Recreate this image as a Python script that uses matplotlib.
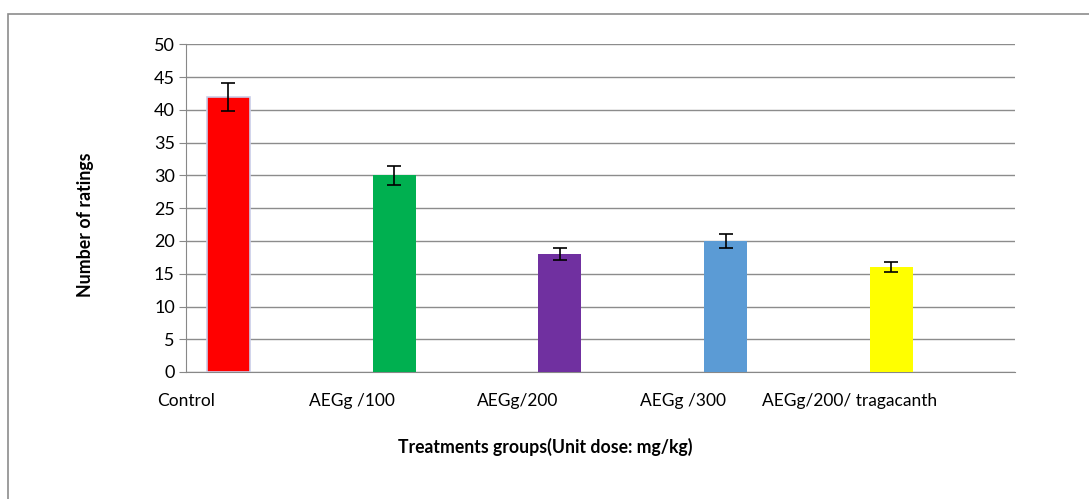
import matplotlib
matplotlib.use('Agg')
import matplotlib.pyplot as plt
from matplotlib.patches import Rectangle

groups = ['Control', 'AEGg /100', 'AEGg/200', 'AEGg /300', 'AEGg/200/ tragacanth']
ratings = [42, 30, 18, 20, 16]
errors = [2.1, 1.5, 0.9, 1.0, 0.8]
colors = ['#ff0000', '#00b050', '#7030a0', '#5b9bd5', '#ffff00']

plt.rcParams['font.family'] = ['Lato', 'DejaVu Sans']

fig = plt.figure(figsize=(10.89, 4.99), dpi=100)
ax = fig.add_axes([186 / 1089, 1 - 372 / 499, (1015 - 186) / 1089, (372 - 44.5) / 499])

x_pos = [i + 0.255 for i in range(len(groups))]
ax.bar(x_pos, ratings, 0.26, color=colors, zorder=3)
ax.patches[0].set_edgecolor('#c9cde8')
ax.patches[0].set_linewidth(1.2)
ax.errorbar(x_pos, ratings, yerr=errors, fmt='none', ecolor='black',
            elinewidth=1.2, capsize=5, capthick=1.2, zorder=4)

ax.set_xlim(0, 5)
ax.set_ylim(0, 50)
ax.set_yticks(range(0, 51, 5))
ax.set_xticks(range(len(groups)))
ax.set_xticklabels(groups, fontsize=12.5)
ax.tick_params(axis='x', length=0, pad=15)
ax.tick_params(axis='y', length=5, color='#888888', labelsize=13, pad=3)
ax.grid(axis='y', color='#8c8c8c', linewidth=1, zorder=0)

for side in ['top', 'right']:
    ax.spines[side].set_visible(False)
ax.spines['left'].set_color('#888888')
ax.spines['bottom'].set_color('#888888')

fig.text(85 / 1089, 1 - 225 / 499, 'Number of ratings', rotation=90,
         fontsize=12.8, fontweight='bold', ha='center', va='center')
fig.text(545 / 1089, 1 - 447 / 499, 'Treatments groups(Unit dose: mg/kg)',
         fontsize=12.7, fontweight='bold', ha='center', va='center')

fig.patches.append(Rectangle((8 / 1089, -0.1), 1.2, 1 - 14 / 499 + 0.1,
                             transform=fig.transFigure, fill=False,
                             edgecolor='#8c8c8c', linewidth=1.2))

fig.savefig('out.png', dpi=100)
